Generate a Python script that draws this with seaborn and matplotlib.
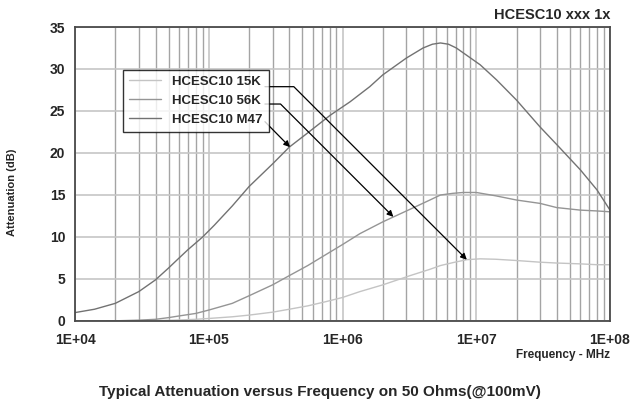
import numpy as np
import pandas as pd
import matplotlib
matplotlib.use("Agg")
import matplotlib.pyplot as plt
import matplotlib.ticker as mticker
import seaborn as sns

# values: frequency (Hz) and attenuation (dB) per part
freq_15k = [1e4, 2e4, 3e4, 4e4, 5e4, 6e4, 8e4, 1e5, 1.5e5, 2e5, 3e5, 4e5, 5.5e5,
            7.5e5, 1e6, 1.35e6, 2e6, 3.2e6, 4.5e6, 5.4e6, 6.7e6, 8.5e6, 1.07e7,
            1.4e7, 2e7, 3e7, 4e7, 6e7, 8e7, 1e8]
att_15k = [0.0, 0.0, 0.02, 0.05, 0.08, 0.12, 0.2, 0.3, 0.5, 0.7, 1.05, 1.4, 1.8,
           2.3, 2.8, 3.5, 4.3, 5.4, 6.15, 6.6, 6.95, 7.3, 7.4,
           7.35, 7.2, 7.0, 6.9, 6.8, 6.7, 6.7]

freq_56k = [1e4, 2e4, 3e4, 4e4, 5e4, 6e4, 8e4, 1e5, 1.5e5, 2e5, 3e5, 4e5, 5.5e5,
            7.5e5, 1e6, 1.35e6, 2e6, 3.2e6, 4.5e6, 5.4e6, 6.7e6, 8e6, 1e7,
            1.4e7, 2e7, 3e7, 4e7, 6e7, 8e7, 1e8]
att_56k = [0.0, 0.02, 0.1, 0.2, 0.4, 0.6, 0.9, 1.3, 2.1, 3.0, 4.3, 5.4, 6.6,
           7.9, 9.1, 10.4, 11.8, 13.3, 14.4, 15.0, 15.2, 15.3, 15.3,
           14.9, 14.4, 14.0, 13.5, 13.2, 13.1, 13.0]

freq_m47 = [1e4, 1.4e4, 2e4, 3e4, 4e4, 5e4, 6e4, 7e4, 9e4, 1.1e5, 1.5e5, 2e5,
            3e5, 4e5, 5.5e5, 8.1e5, 1.14e6, 1.6e6, 2e6, 3e6, 4e6, 4.7e6, 5.4e6,
            6.2e6, 7.1e6, 1.07e7, 1.42e7, 2e7, 3e7, 4e7, 6e7, 8e7, 1e8]
att_m47 = [1.0, 1.4, 2.1, 3.5, 4.9, 6.3, 7.5, 8.5, 10.0, 11.4, 13.7, 16.0,
           18.7, 20.7, 22.4, 24.5, 26.1, 27.9, 29.3, 31.3, 32.5, 32.95, 33.1,
           32.95, 32.5, 30.5, 28.7, 26.3, 23.1, 21.0, 18.0, 15.6, 13.2]

series = ["HCESC10 15K", "HCESC10 56K", "HCESC10 M47"]
colors = ["#c4c4c4", "#959595", "#727272"]

# where the legend arrows point on each curve
tip_freq = [8.5e6, 2.4e6, 4.05e5]
tip_val = [7.3, 12.4, 20.7]

xtick_vals = [1e4, 1e5, 1e6, 1e7, 1e8]
xtick_labels = ["1E+04", "1E+05", "1E+06", "1E+07", "1E+08"]
ytick_vals = [0, 5, 10, 15, 20, 25, 30, 35]

df = pd.DataFrame({
    "freq": freq_15k + freq_56k + freq_m47,
    "att": att_15k + att_56k + att_m47,
    "part": [series[0]] * len(freq_15k) + [series[1]] * len(freq_56k)
            + [series[2]] * len(freq_m47),
})

sns.set_style("white")
plt.rcParams["font.family"] = ["Liberation Sans", "DejaVu Sans"]
plt.rcParams["font.weight"] = "bold"

fig = plt.figure(figsize=(6.39, 4.03), dpi=100)
ax = fig.add_axes([0.1174, 0.2035, 0.8372, 0.7295])

sns.lineplot(data=df, x="freq", y="att", hue="part", hue_order=series,
             palette=colors, linewidth=1.0, sort=False, ax=ax, legend=True)

ax.set_xscale("log")
ax.set_xlim(1e4, 1e8)
ax.set_ylim(0, 35)
ax.set_xticks(xtick_vals)
ax.set_xticklabels(xtick_labels)
ax.xaxis.set_minor_locator(mticker.LogLocator(base=10, subs=range(2, 10)))
ax.xaxis.set_minor_formatter(mticker.NullFormatter())
ax.set_yticks(ytick_vals)
ax.tick_params(axis="both", which="both", length=0, labelsize=10)
ax.tick_params(axis="x", pad=9)
ax.tick_params(axis="y", pad=7)
for lab in ax.get_xticklabels() + ax.get_yticklabels():
    lab.set_fontweight("bold")

ax.grid(True, which="major", axis="both", color="#c6c6c6", linewidth=1.2)
ax.grid(True, which="minor", axis="x", color="#a4a4a4", linewidth=1.0)
ax.set_axisbelow(True)
for sp in ax.spines.values():
    sp.set_color("#4a4a4a")
    sp.set_linewidth(1.3)

ax.set_xlabel("")
ax.set_ylabel("")

handles, labels = ax.get_legend_handles_labels()
leg = ax.legend(handles, labels, loc="upper left", bbox_to_anchor=(0.0897, 0.854),
                fontsize=9.5, frameon=True, fancybox=False, edgecolor="black",
                handlelength=2.4, handletextpad=0.9, labelspacing=0.5,
                borderpad=0.45, borderaxespad=0)
leg.get_frame().set_linewidth(1.0)
for t in leg.get_texts():
    t.set_fontweight("bold")

# arrows from the legend box to the curves
starts = [(0.355, 0.797), (0.355, 0.738), (0.355, 0.678)]
for i, ((sx, sy), tf, tv) in enumerate(zip(starts, tip_freq, tip_val)):
    style = "angle,angleA=0,angleB=135,rad=0" if i < 2 else "arc3,rad=0"
    ax.annotate("", xy=(tf, tv), xycoords="data",
                xytext=(sx, sy), textcoords="axes fraction",
                arrowprops=dict(arrowstyle="-|>", color="black", lw=0.9,
                                mutation_scale=9, shrinkA=0, shrinkB=0,
                                connectionstyle=style))

fig.text(0.9546, 0.962, "HCESC10 xxx 1x", ha="right", va="center",
         fontsize=10.5, fontweight="bold")
fig.text(0.019, 0.523, "Attenuation (dB)", rotation=90, ha="center",
         va="center", fontsize=8, fontweight="bold")
fig.text(0.9546, 0.119, "Frequency - MHz", ha="right", va="center",
         fontsize=8.5, fontweight="bold")
fig.text(0.5, 0.027, "Typical Attenuation versus Frequency on 50 Ohms(@100mV)",
         ha="center", va="center", fontsize=11, fontweight="bold")

fig.savefig("out.png", dpi=100)
